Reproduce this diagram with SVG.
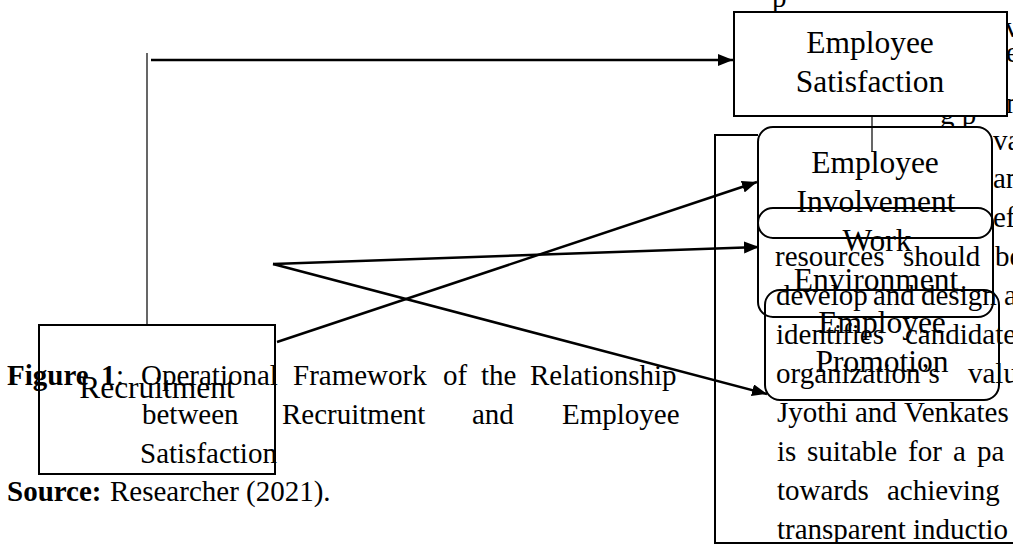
<svg xmlns="http://www.w3.org/2000/svg" width="1013" height="544" viewBox="0 0 1013 544">
<style>
.t{font-family:"Liberation Serif","Times New Roman",serif;fill:#000}
.body{font-size:29px}
.lbl{font-size:31.5px;text-anchor:middle}
.b{font-weight:bold}
.box{fill:none;stroke:#000;stroke-width:2}
.wbox{fill:#fff;stroke:#000;stroke-width:2}
.conn{fill:none;stroke:#000;stroke-width:2.5}
.thin{fill:none;stroke:#000;stroke-width:1.2}
</style>
<defs>
<marker id="ah" markerUnits="userSpaceOnUse" markerWidth="15" markerHeight="12" refX="15" refY="6" orient="auto">
<path d="M0,0 L15,6 L0,12 z" fill="#000"/>
</marker>
</defs>
<rect width="1013" height="544" fill="#fff"/>

<g id="body-text" class="t body">
<text x="772" y="7">p</text>
<text x="1005" y="37">v</text>
<text x="1006" y="62">e</text>
<text x="1006" y="113">n</text>
<text x="940" y="124">g p</text>
<text x="993" y="150">va</text>
<text x="993" y="188">an</text>
<text x="993" y="227">ef</text>
<text y="266"><tspan x="775">resources</tspan><tspan x="903">should</tspan><tspan x="995">be</tspan></text>
<text y="305"><tspan x="776">develop</tspan><tspan x="873">and</tspan><tspan x="921">design</tspan><tspan x="1004">a</tspan></text>
<text y="344"><tspan x="776">identifies</tspan><tspan x="905">candidate</tspan></text>
<text y="383"><tspan x="776">organization’s</tspan><tspan x="968">value</tspan></text>
<text y="422"><tspan x="777">Jyothi</tspan><tspan x="855">and</tspan><tspan x="904">Venkates</tspan></text>
<text y="461"><tspan x="777">is</tspan><tspan x="807">suitable</tspan><tspan x="908">for</tspan><tspan x="953">a</tspan><tspan x="977">pa</tspan></text>
<text y="500"><tspan x="777">towards</tspan><tspan x="887">achieving</tspan></text>
<text y="539"><tspan x="777">transparent</tspan><tspan x="913">inductio</tspan></text>
</g>

<g id="caption" class="t body">
<text y="385"><tspan x="7" class="b">Figure</tspan><tspan x="101" class="b">1</tspan><tspan x="116">:</tspan><tspan x="141">Operational</tspan><tspan x="293">Framework</tspan><tspan x="443">of</tspan><tspan x="481">the</tspan><tspan x="530">Relationship</tspan></text>
<text y="424"><tspan x="142">between</tspan><tspan x="282">Recruitment</tspan><tspan x="472">and</tspan><tspan x="562">Employee</tspan></text>
<text x="140" y="463">Satisfaction</text>
<text y="501"><tspan x="7" class="b">Source:</tspan><tspan x="110">Researcher (2021).</tspan></text>
</g>

<path id="frame" class="box" d="M758,135 H715 V543 H1013"/>

<g id="recruitment">
<rect class="box" x="39" y="325" width="236" height="149"/>
<text class="t lbl" x="157" y="398">Recruitment</text>
</g>

<g id="employee-involvement">
<rect class="wbox" x="758" y="127" width="234" height="111" rx="15"/>
<text class="t lbl" x="875" y="173">Employee</text>
<text class="t lbl" x="876" y="212">Involvement</text>
</g>

<g id="work-environment">
<rect class="box" x="758" y="208" width="235" height="109" rx="15"/>
<text class="t lbl" x="877" y="251">Work</text>
<text class="t lbl" x="876" y="290">Environment</text>
</g>

<g id="employee-promotion">
<rect class="box" x="765" y="290" width="234" height="110" rx="15"/>
<text class="t lbl" x="882" y="333">Employee</text>
<text class="t lbl" x="882" y="372">Promotion</text>
</g>

<g id="employee-satisfaction">
<rect class="wbox" x="734" y="12" width="273" height="104"/>
<text class="t lbl" x="870" y="53">Employee</text>
<text class="t lbl" x="870" y="92">Satisfaction</text>
</g>

<g id="connectors">
<line class="thin" x1="147" y1="53" x2="147" y2="325"/>
<line class="conn" x1="151" y1="60" x2="733" y2="60" marker-end="url(#ah)"/>
<line class="thin" x1="872" y1="116" x2="872" y2="152"/>
<line class="conn" x1="277" y1="342" x2="757" y2="182" marker-end="url(#ah)"/>
<line class="conn" x1="273" y1="264" x2="759" y2="247" marker-end="url(#ah)"/>
<line class="conn" x1="273" y1="264" x2="767" y2="394" marker-end="url(#ah)"/>
</g>
</svg>
